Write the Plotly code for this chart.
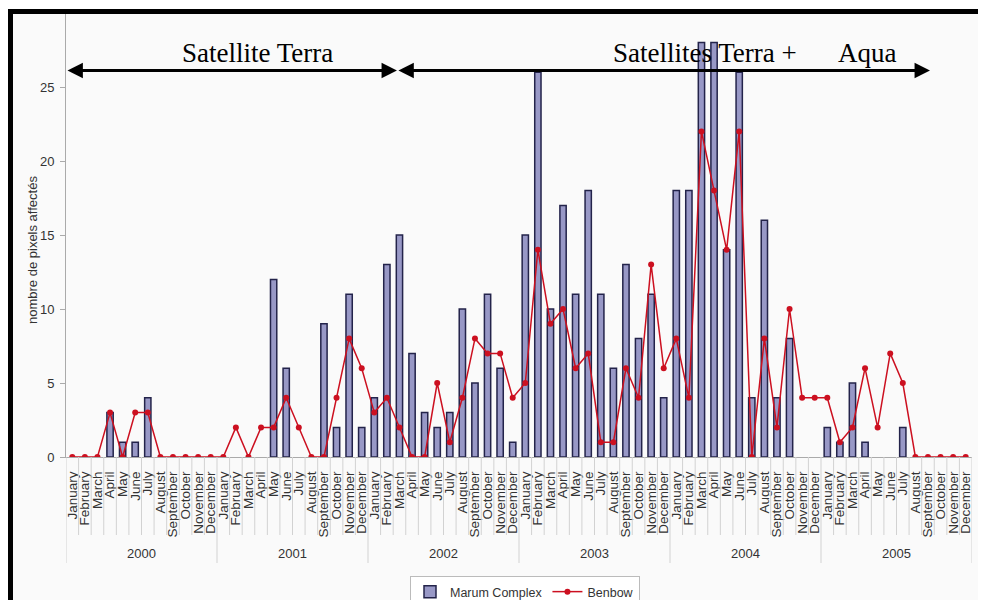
import plotly.graph_objects as go

years = ["2000", "2001", "2002", "2003", "2004", "2005"]
months = ["January", "February", "March", "April", "May", "June", "July",
          "August", "September", "October", "November", "December"]

marum_complex = [
    0, 0, 0, 3, 1, 1, 4, 0, 0, 0, 0, 0,          # 2000
    0, 0, 0, 0, 12, 6, 0, 0, 9, 2, 11, 2,        # 2001
    4, 13, 15, 7, 3, 2, 3, 10, 5, 11, 6, 1,      # 2002
    15, 26, 10, 17, 11, 18, 11, 6, 13, 8, 11, 4, # 2003
    18, 18, 28, 28, 14, 26, 4, 16, 4, 8, 0, 0,   # 2004
    2, 1, 5, 1, 0, 0, 2, 0, 0, 0, 0, 0,          # 2005
]
benbow = [
    0, 0, 0, 3, 0, 3, 3, 0, 0, 0, 0, 0,          # 2000
    0, 2, 0, 2, 2, 4, 2, 0, 0, 4, 8, 6,          # 2001
    3, 4, 2, 0, 0, 5, 1, 4, 8, 7, 7, 4,          # 2002
    5, 14, 9, 10, 6, 7, 1, 1, 6, 4, 13, 6,       # 2003
    8, 4, 22, 18, 14, 22, 0, 8, 2, 10, 4, 4,     # 2004
    4, 1, 2, 6, 2, 7, 5, 0, 0, 0, 0, 0,          # 2005
]
y_ticks = [0, 5, 10, 15, 20, 25, 30]

n = len(marum_complex)
idx = list(range(n))
month_labels = [months[i % 12] for i in idx]

SANS = "Liberation Sans, Arial, sans-serif"
SERIF = "Liberation Serif, Times New Roman, serif"
TXT = "#333333"
BG = "#fafafa"
BAR_FILL = "#9898c6"
BAR_EDGE = "#23234a"

fig = go.Figure()
# legend entry for the bars (keeps the outline in the legend symbol)
fig.add_trace(go.Bar(
    x=[None], y=[None], name="Marum Complex", legendgroup="marum",
    marker=dict(color=BAR_FILL, line=dict(color=BAR_EDGE, width=1.5)),
))
fig.add_trace(go.Bar(
    x=idx, y=marum_complex, name="Marum Complex", width=0.5, legendgroup="marum",
    showlegend=False,
    marker=dict(color=BAR_FILL,
                line=dict(color=BAR_EDGE, width=[1.5 if v > 0 else 0 for v in marum_complex])),
))
fig.add_trace(go.Scatter(
    x=idx, y=benbow, name="Benbow", mode="lines+markers",
    line=dict(color="#cc1020", width=1.5),
    marker=dict(color="#cc1020", size=6),
))

# pixel helpers for decorations (plot area in page pixels: x 66..972, y 13..457)
def px(xp):
    return (xp - 66) / 906.0

def py(yp):
    return (457 - yp) / 444.0

shapes = []
for k in range(n + 1):
    is_year = (k % 12 == 0)
    shapes.append(dict(
        type="line", xref="x", yref="paper",
        x0=k - 0.5, x1=k - 0.5, y0=0, y1=py(563) if is_year else py(535),
        line=dict(color="#d2d2d2", width=1),
    ))
# black frame (top and left)
shapes += [
    dict(type="rect", xref="paper", yref="paper", x0=px(0), x1=1.2, y0=py(9), y1=py(-20),
         fillcolor="white", line=dict(width=0)),
    dict(type="rect", xref="paper", yref="paper", x0=px(7), x1=1.2, y0=py(14), y1=py(9),
         fillcolor="black", line=dict(width=0)),
    dict(type="rect", xref="paper", yref="paper", x0=px(0), x1=px(13), y0=py(700), y1=py(9),
         fillcolor="black", line=dict(width=0)),
]

annotations = []
for j, yr in enumerate(years):
    annotations.append(dict(
        x=j * 12 + 5.5, y=py(553), xref="x", yref="paper", text=yr,
        showarrow=False, font=dict(family=SANS, size=13, color=TXT),
        xanchor="center", yanchor="middle",
    ))
annotations.append(dict(
    x=px(32), y=py(250), xref="paper", yref="paper", text="nombre de pixels affectés",
    textangle=-90, showarrow=False, font=dict(family=SANS, size=13, color=TXT),
    xanchor="center", yanchor="middle",
))
arrow_y = (457 - 70.5) / 14.8
for x_start, x_end in [(-0.5, 25.8), (25.8, 68.16)]:
    annotations.append(dict(
        x=x_end, y=arrow_y, ax=x_start, ay=arrow_y, xref="x", yref="y", axref="x", ayref="y",
        text="", showarrow=True, arrowhead=2, startarrowhead=2, arrowside="end+start",
        arrowsize=1.1, startarrowsize=1.1, arrowwidth=2.8, arrowcolor="black",
        standoff=0, startstandoff=0,
    ))
for label, xc in [("Satellite Terra", 257), ("Satellites Terra +", 705), ("Aqua", 866.5)]:
    annotations.append(dict(
        x=px(xc), y=py(53), xref="paper", yref="paper", text=label, showarrow=False,
        font=dict(family=SERIF, size=27, color="black"), xanchor="center", yanchor="middle",
    ))

# the page body adds an 8px margin, so the figure is 970x592 and sits at (8, 8)
fig.update_layout(
    width=970, height=592, autosize=False,
    margin=dict(l=58, r=6, t=5, b=143, autoexpand=False),
    paper_bgcolor=BG, plot_bgcolor=BG,
    font=dict(family=SANS, size=13, color=TXT),
    barmode="overlay",
    showlegend=True,
    legend=dict(
        orientation="h", x=px(525), xanchor="center", y=py(576), yanchor="top",
        bgcolor="white", bordercolor="#bbbbbb", borderwidth=1,
        font=dict(family=SANS, size=12.5, color=TXT),
    ),
    xaxis=dict(
        range=[-0.5, n - 0.5], tickmode="array", tickvals=idx, ticktext=month_labels,
        tickangle=-90, ticks="", showgrid=False, zeroline=False, automargin=False,
        showline=True, linecolor="#aaaaaa", linewidth=1,
        tickfont=dict(family=SANS, size=13.5, color=TXT), ticklabelstandoff=8,
    ),
    yaxis=dict(
        range=[0, 30], tickmode="array", tickvals=y_ticks, ticks="outside", ticklen=5,
        tickcolor="#aaaaaa", showgrid=False, zeroline=False, automargin=False,
        showline=True, linecolor="#aaaaaa", linewidth=1,
        tickfont=dict(family=SANS, size=13, color=TXT), ticklabelstandoff=3,
    ),
    shapes=shapes,
    annotations=annotations,
)

fig.write_html("out.html")
